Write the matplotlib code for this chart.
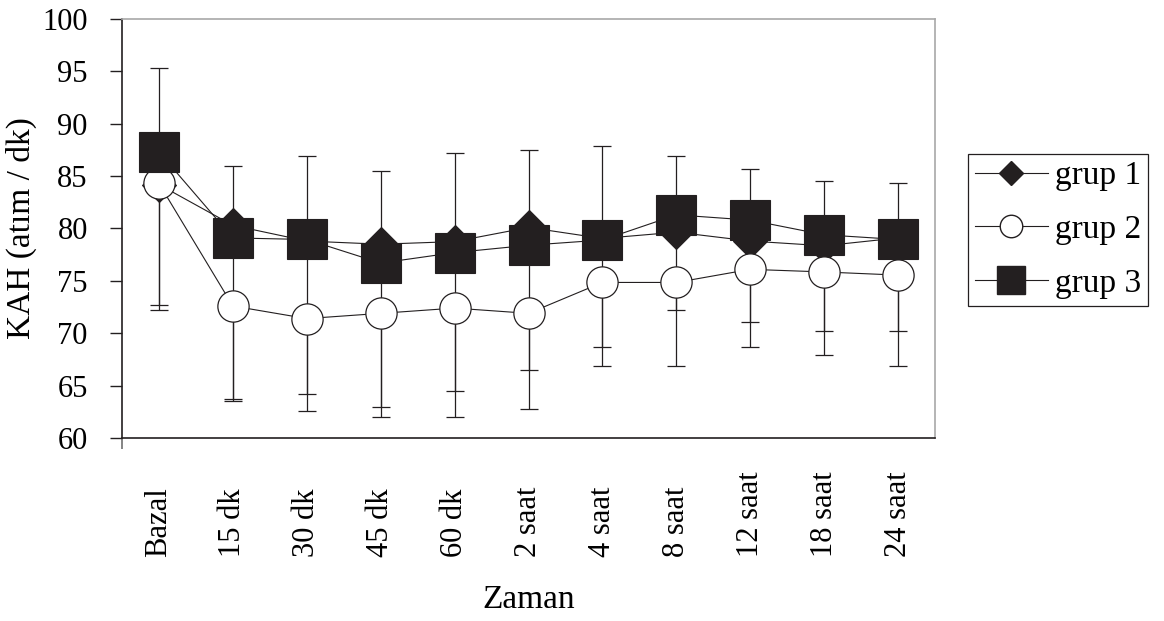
import numpy as np
import matplotlib
matplotlib.use("Agg")
import matplotlib.pyplot as plt
from matplotlib.lines import Line2D

plt.rcParams["font.family"] = ["Liberation Serif", "DejaVu Serif"]

# veriler (grafikten okunan ortalama ve SD değerleri)
zaman = ["Bazal", "15 dk", "30 dk", "45 dk", "60 dk", "2 saat",
         "4 saat", "8 saat", "12 saat", "18 saat", "24 saat"]

grup1 = [84.2, 80.3, 78.8, 78.5, 78.75, 80.1, 79.05, 79.65, 78.8, 78.35, 79.1]
grup1_sd = [11.5, 16.55, 14.6, 15.5, 14.25, 13.65, 10.4, 7.45, 7.7, 8.15, 8.9]

grup2 = [84.3, 72.6, 71.4, 71.9, 72.4, 71.9, 74.85, 74.85, 76.1, 75.85, 75.55]
grup2_sd = [12.1, 9.1, 8.85, 9.9, 10.4, 9.1, 7.95, 7.95, 7.45, 7.9, 8.65]

grup3 = [87.3, 79.1, 78.95, 76.7, 77.7, 78.4, 78.9, 81.3, 80.8, 79.4, 78.95]
grup3_sd = [8.0, 6.85, 8.0, 8.75, 9.5, 9.05, 9.0, 5.65, 4.9, 5.1, 5.35]

koyu = "#231f20"
x = np.arange(len(zaman))

fig = plt.figure(figsize=(11.64, 6.21), dpi=100)
ax = fig.add_axes([0.1048, 0.2947, 0.6985, 0.6747])

# hata çubukları: grup 1 ve 2 aşağı, grup 3 yukarı
sifir = np.zeros(len(zaman))
hata_stil = dict(fmt="none", ecolor=koyu, elinewidth=0.9, capsize=6.5,
                 capthick=0.9, zorder=1)
ax.errorbar(x, grup1, yerr=[grup1_sd, sifir], **hata_stil)
ax.errorbar(x, grup2, yerr=[grup2_sd, sifir], **hata_stil)
ax.errorbar(x, grup3, yerr=[sifir, grup3_sd], **hata_stil)

# çizgiler önce, işaretler üstte
for y in (grup1, grup2, grup3):
    ax.plot(x, y, color=koyu, lw=0.8, zorder=2)

ax.plot(x, grup1, ls="none", marker="D", ms=17, mfc=koyu, mec=koyu,
        mew=0.8, zorder=3)
ax.plot(x, grup2, ls="none", marker="o", ms=22.5, mfc="white", mec=koyu,
        mew=0.9, zorder=4)
ax.plot(x, grup3, ls="none", marker="s", ms=28.5, mfc=koyu, mec=koyu,
        mew=0.8, zorder=5)

ax.set_xlim(-0.5, len(zaman) - 0.5)
ax.set_ylim(60, 100)
ax.set_yticks(np.arange(60, 101, 5))
ax.set_xticks(x)
ax.set_xticklabels(zaman, rotation=90, va="bottom", fontsize=22)
# sol kenarda tek küçük çentik
ax.set_xticks([-0.5], minor=True)

ax.tick_params(axis="y", direction="out", length=8.6, width=1.0,
               color=koyu, pad=16, labelsize=22)
ax.tick_params(axis="x", which="major", length=0, pad=86)
ax.tick_params(axis="x", which="minor", length=8, width=1.2,
               direction="out", color="#707070")

for s in ("left", "bottom"):
    ax.spines[s].set_color(koyu)
    ax.spines[s].set_linewidth(1.2)
for s in ("top", "right"):
    ax.spines[s].set_color("#a8a8a8")
    ax.spines[s].set_linewidth(1.2)

ax.set_ylabel("KAH (atım / dk)", fontsize=24)
ax.yaxis.set_label_coords(-0.104, 0.5)
ax.set_xlabel("Zaman", fontsize=24, va="top")
ax.xaxis.set_label_coords(0.5, -0.35)

handles = [
    Line2D([], [], color=koyu, lw=0.8, marker="D", ms=17, mfc=koyu, mec=koyu),
    Line2D([], [], color=koyu, lw=0.8, marker="o", ms=22.5, mfc="white",
           mec=koyu),
    Line2D([], [], color=koyu, lw=0.8, marker="s", ms=28.5, mfc=koyu,
           mec=koyu),
]
leg = fig.legend(handles, ["grup 1", "grup 2", "grup 3"],
                 loc="upper left", bbox_to_anchor=(0.8316, 0.752),
                 borderaxespad=0, fontsize=24, markerscale=0.72,
                 handlelength=2.2, handletextpad=0.2, labelspacing=0.7,
                 borderpad=0.2, fancybox=False, framealpha=1,
                 edgecolor=koyu)
leg.get_frame().set_linewidth(0.9)

fig.savefig("out.png", dpi=100)
